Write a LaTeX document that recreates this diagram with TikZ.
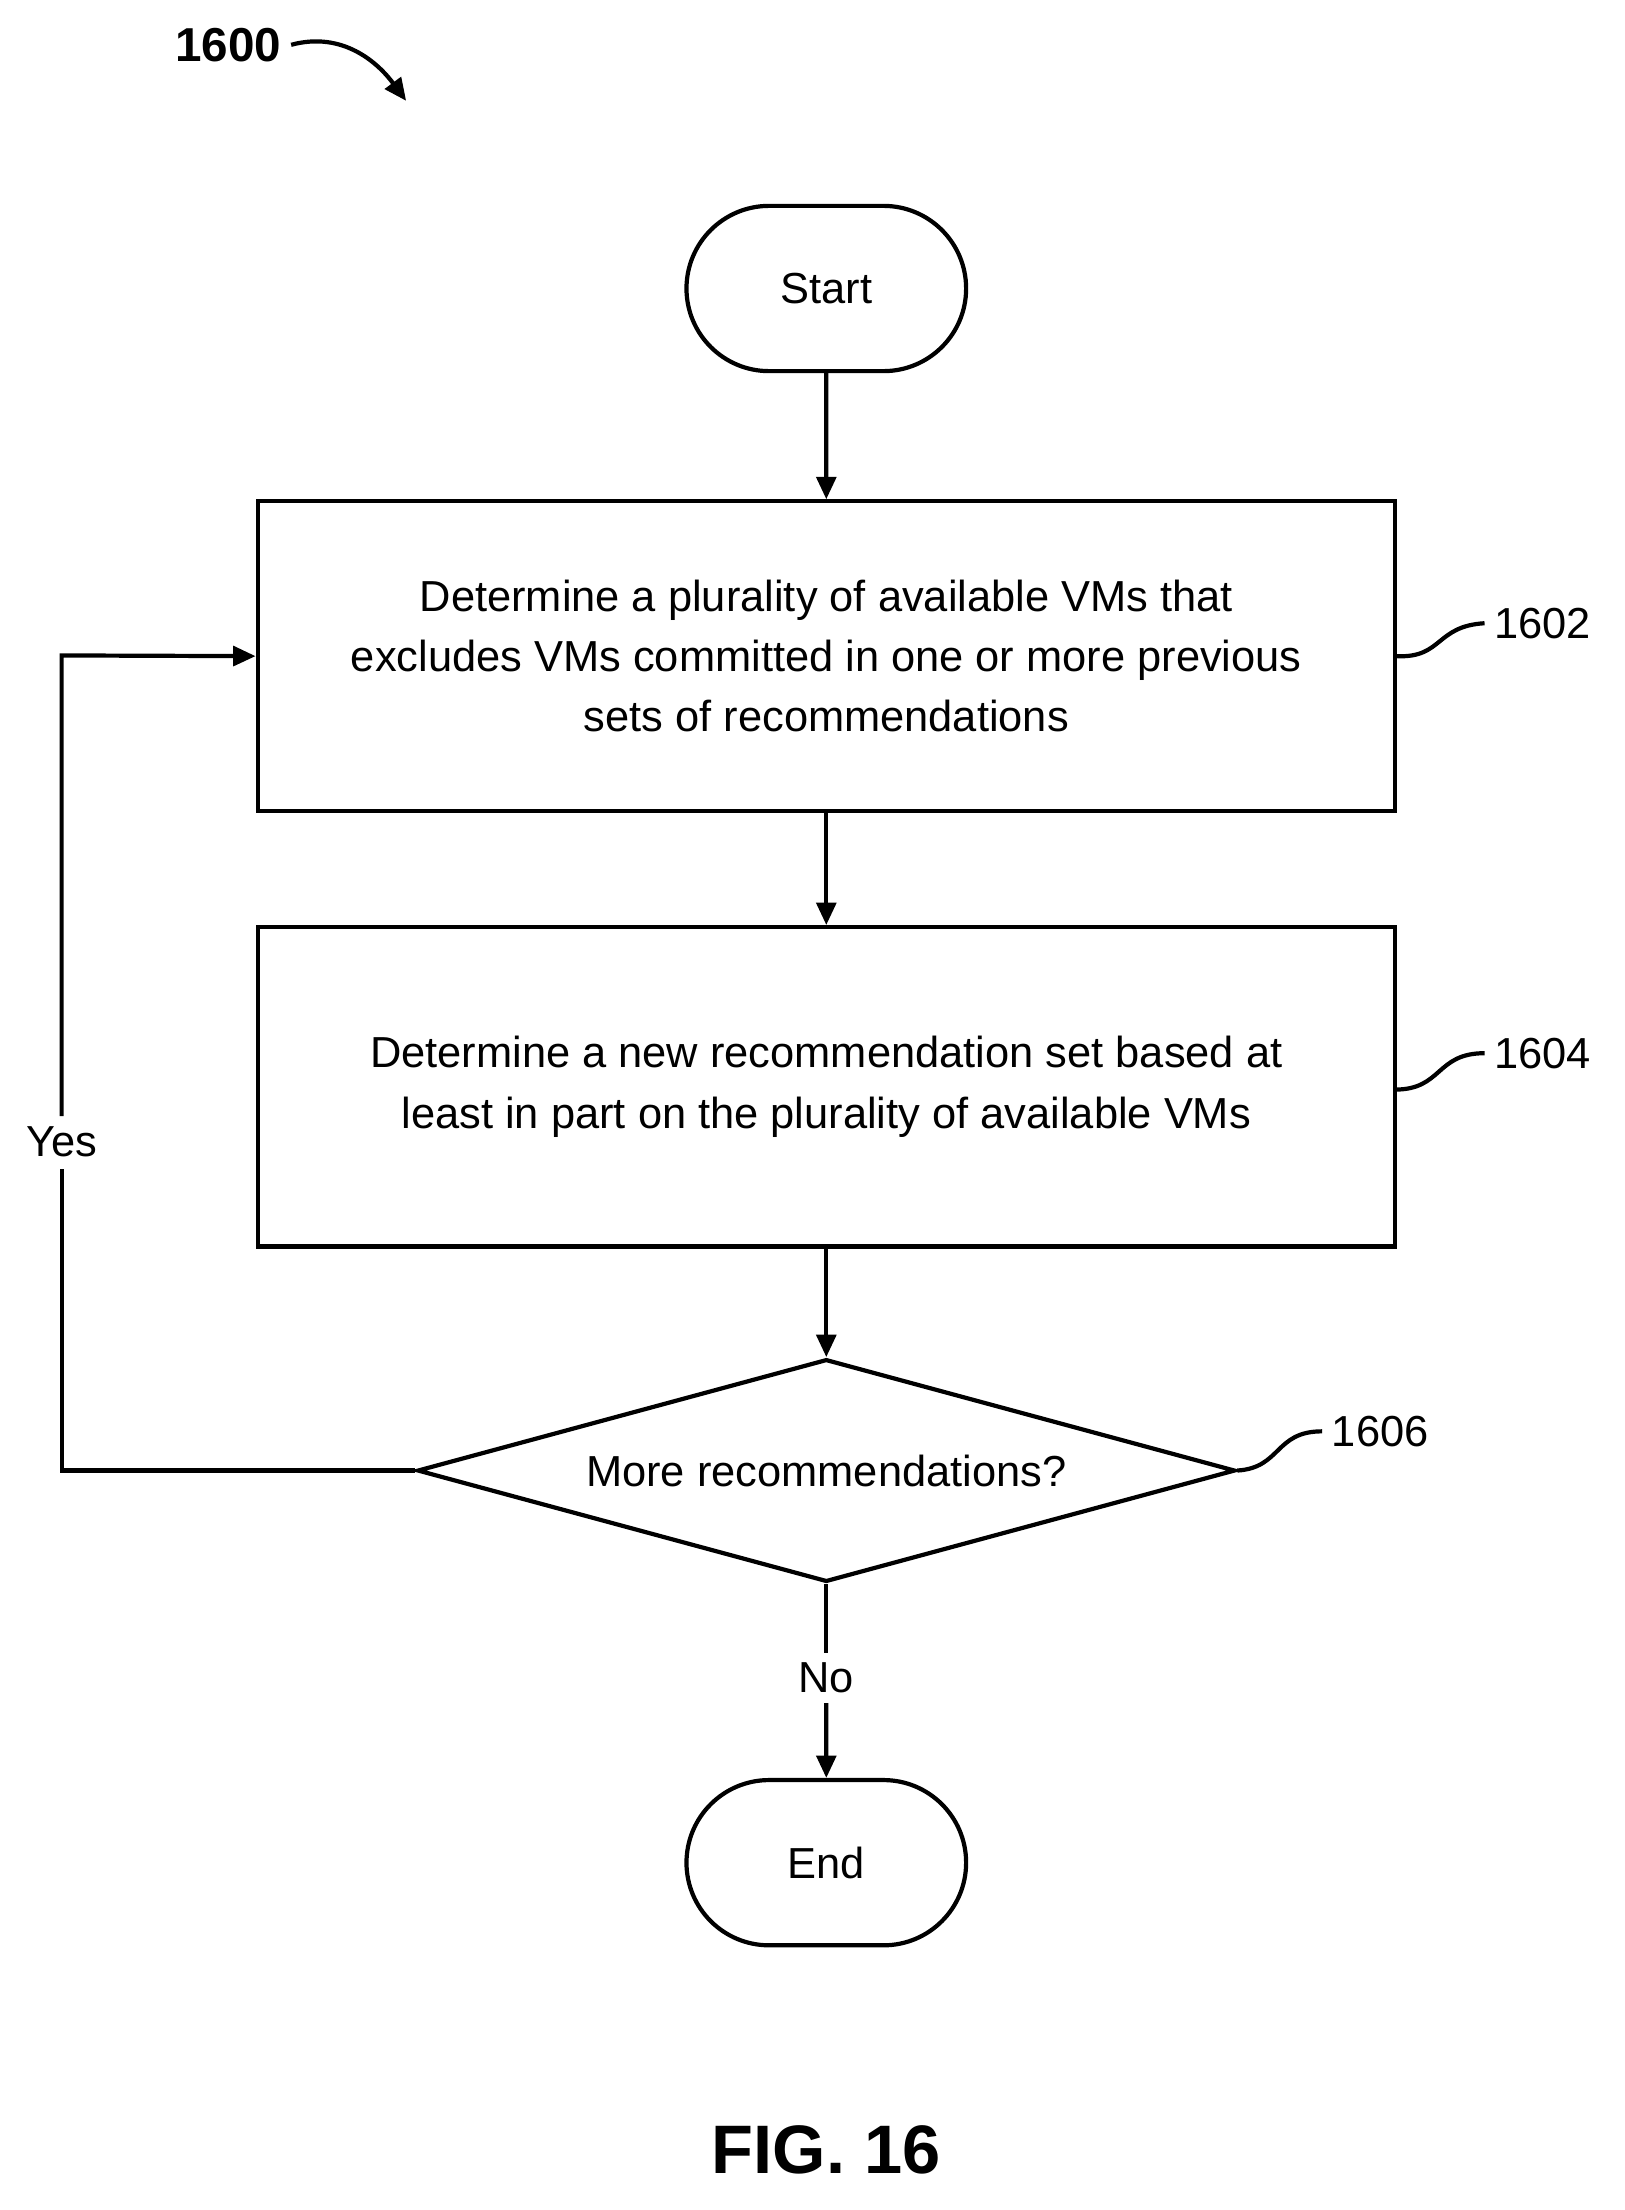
\documentclass[tikz,border=0pt]{standalone}
\usepackage{fontspec}
\setmainfont{Liberation Sans}
\usetikzlibrary{shapes.misc,shapes.geometric,arrows.meta}
\begin{document}
\begin{tikzpicture}[x=0.5pt,y=-0.5pt,
  line/.style={line width=1.5pt},
  arr/.style={line, -{Triangle[length=8pt,width=7pt]}},
  term/.style={rounded rectangle, draw, line width=1.5pt, minimum width=106.5pt, minimum height=59pt, font=\fontsize{15.5}{18}\selectfont},
  box/.style={draw, line width=1.5pt, minimum width=406pt, align=center, font=\fontsize{15.5}{21.5}\selectfont},
  lbl/.style={font=\fontsize{15.5}{18}\selectfont}]
\useasboundingbox (0,0) rectangle (1160,1578);
\node[font=\fontsize{17}{20}\selectfont\bfseries] (n1600) at (163,32) {1600};
\draw[arr] (n1600.east) .. controls (245,22) and (270,45) .. (290,72);
\node[term] (start) at (590,206) {Start};
\node[box, minimum height=110.5pt] (b1) at (590,468.5) {Determine a plurality of available VMs that\\excludes VMs committed in one or more previous\\sets of recommendations};
\node[box, minimum height=114pt] (b2) at (590,776) {Determine a new recommendation set based at\\least in part on the plurality of available VMs};
\node[diamond, draw, line width=1.5pt, aspect=3.67, minimum width=292pt, minimum height=79.5pt, inner sep=0pt, lbl] (d) at (590,1050) {More recommendations?};
\node[term] (end) at (590,1330) {End};
\draw[arr] (start) -- (b1);
\draw[arr] (b1) -- (b2);
\draw[arr] (b2) -- (d);
\draw[line] (d.south) -- (590,1180);
\node[lbl] (no) at (590,1198) {No};
\draw[arr] (590,1216) -- (end);
\coordinate (c1) at (44,1050);
\coordinate (c2) at (44,468);
\draw[line] (d.west) -- (c1) -- (44,835);
\draw[arr] (44,797) -- (c2) -- (b1.west);
\node[lbl] (yes) at (44,815) {Yes};
\node[lbl,anchor=west] (l1602) at (1060,445) {1602};
\draw[line] (b1.east) .. controls (1030,470) and (1025,447) .. (l1602.west);
\node[lbl,anchor=west] (l1604) at (1060,752) {1604};
\draw[line] (996,778) .. controls (1030,778) and (1025,752) .. (l1604.west);
\node[lbl,anchor=west] (l1606) at (944,1022) {1606};
\draw[line] (d.east) .. controls (915,1048) and (910,1022) .. (l1606.west);
\node[font=\fontsize{24.5}{28}\selectfont\bfseries] (fig) at (590,1535) {FIG. 16};
\end{tikzpicture}
\end{document}
